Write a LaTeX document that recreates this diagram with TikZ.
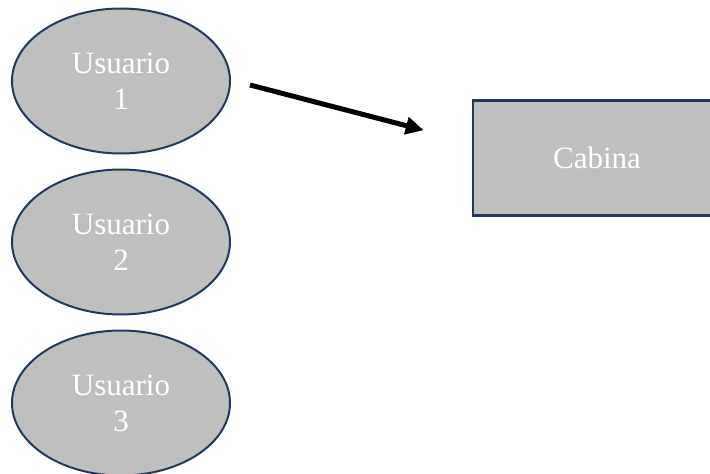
\documentclass[tikz,border=0pt]{standalone}
\usepackage{fontspec}
\setmainfont{Liberation Serif}
\usetikzlibrary{arrows.meta,positioning,shapes.geometric}
\definecolor{boxgray}{HTML}{BFBFBF}
\definecolor{boxline}{HTML}{203A5C}
\tikzset{node distance=161pt, % centre to centre, users stacked
        every node/.style={ % Sets the text look for every node
            text=white,
            align=center,
            font=\fontsize{31}{36}\selectfont},
        user/.style={ % Sets the properties for each user
            ellipse,
            draw=boxline,
            line width=2pt,
            fill=boxgray,
            minimum width=218pt,
            minimum height=145pt},
        cabin/.style={ % The cabin box
            rectangle,
            draw=boxline,
            line width=2.5pt,
            fill=boxgray,
            minimum width=248pt,
            minimum height=115pt},
        link/.style={ % Thick black arrow
            draw,
            line width=5pt,
            -{Triangle[length=18pt,width=17pt]}}
        }

\begin{document}
\begin{tikzpicture}[x=1pt,y=-1pt]
    \clip (0,0) rectangle (710,474);
    \useasboundingbox (0,0) rectangle (710,474);

    \node[user] (u1) at (121,81) {Usuario\\1};
    \node[user] (u2) [below of=u1] {Usuario\\2};
    \node[user] (u3) [below of=u2] {Usuario\\3};
    \node[cabin] (cab) at (597,158) {Cabina};

    \coordinate (from) at ([xshift=19pt,yshift=-4pt]u1.east);
    \coordinate (to) at ([xshift=-48pt,yshift=-31pt]cab.north west);
    \draw[link] (from) -- (to);
\end{tikzpicture}
\end{document}
